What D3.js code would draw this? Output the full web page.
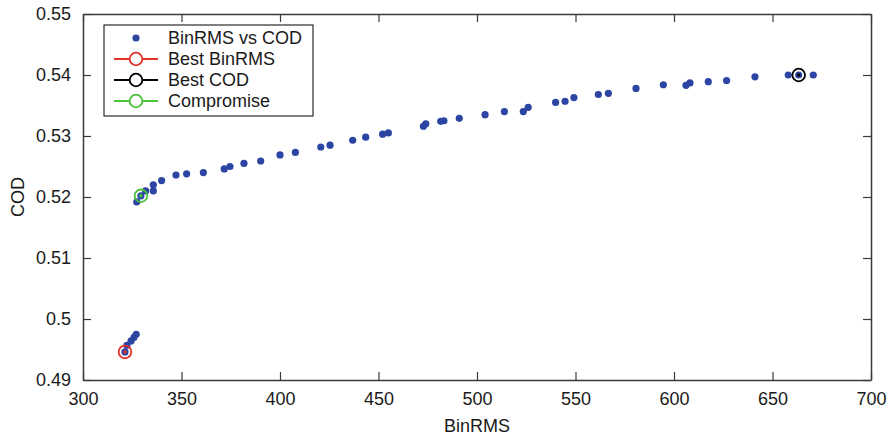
<!DOCTYPE html>
<html>
<head>
<meta charset="utf-8">
<script src="https://cdn.jsdelivr.net/npm/d3@7"></script>
<style>
  body { margin: 0; background: #fff; }
  text { font-family: "Liberation Sans", Arial, sans-serif; fill: #1a1a1a; }
</style>
</head>
<body>
<svg width="894" height="438"></svg>
<script>
// BinRMS vs COD points
const binrms = [321.3, 322.3, 324.4, 325.9, 327.0, 327.3, 329.4, 331.8, 335.7, 335.7,
  339.9, 347.2, 352.6, 361.1, 371.7, 374.6, 381.7, 390.2, 400.0, 407.8,
  420.7, 425.4, 436.9, 443.5, 452.1, 455.0, 472.8, 474.0, 481.6, 483.2,
  491.0, 504.1, 513.9, 523.5, 526.0, 539.9, 544.7, 549.2, 561.6, 566.7,
  580.7, 594.6, 606.1, 608.1, 617.4, 626.7, 641.1, 658.0, 663.3, 670.7];
const cod = [0.4946, 0.4957, 0.4964, 0.4970, 0.4975, 0.5192, 0.5202, 0.5210, 0.5220, 0.5210,
  0.5227, 0.5236, 0.5238, 0.5240, 0.5246, 0.5250, 0.5255, 0.5259, 0.5269, 0.5273,
  0.5282, 0.5285, 0.5293, 0.5298, 0.5303, 0.5305, 0.5316, 0.5320, 0.5324, 0.5325,
  0.5329, 0.5335, 0.5340, 0.5340, 0.5347, 0.5355, 0.5357, 0.5363, 0.5368, 0.5370,
  0.5378, 0.5384, 0.5383, 0.5387, 0.5389, 0.5391, 0.5397, 0.5400, 0.5400, 0.5400];

// highlighted solutions
const highlightNames = ["Best BinRMS", "Best COD", "Compromise"];
const highlightBinrms = [321.3, 663.3, 329.4];
const highlightCod = [0.4946, 0.5400, 0.5202];
const highlightColors = ["#e8302a", "#000000", "#4cc13a"];

const xTicks = [300, 350, 400, 450, 500, 550, 600, 650, 700];
const yTicks = [0.49, 0.50, 0.51, 0.52, 0.53, 0.54, 0.55];

const svg = d3.select("svg");
const margin = { top: 14, right: 23, bottom: 58, left: 83 };
const width = 894 - margin.left - margin.right;
const height = 438 - margin.top - margin.bottom;
const dotColor = "#2c45a3";
const axisColor = "#3a3a3a";

const g = svg.append("g").attr("transform", `translate(${margin.left},${margin.top})`);

const x = d3.scaleLinear().domain([300, 700]).range([0, width]);
const y = d3.scaleLinear().domain([0.49, 0.55]).range([height, 0]);

const fmtY = (v) => String(+v.toFixed(2));

// axes with inward ticks (box on all four sides)
const tickLen = 8;
const bottomAxis = d3.axisBottom(x).tickValues(xTicks).tickSizeInner(-tickLen).tickSizeOuter(0).tickPadding(12);
const leftAxis = d3.axisLeft(y).tickValues(yTicks).tickFormat(fmtY).tickSizeInner(-tickLen).tickSizeOuter(0).tickPadding(12);
const topAxis = d3.axisTop(x).tickValues(xTicks).tickFormat("").tickSizeInner(-tickLen).tickSizeOuter(0);
const rightAxis = d3.axisRight(y).tickValues(yTicks).tickFormat("").tickSizeInner(-tickLen).tickSizeOuter(0);

const styleAxis = (sel) => {
  sel.select(".domain").attr("stroke", axisColor).attr("stroke-width", 1.5);
  sel.selectAll(".tick line").attr("stroke", axisColor).attr("stroke-width", 1.2);
  sel.selectAll(".tick text").attr("font-size", 18).attr("fill", "#1a1a1a")
    .attr("font-family", "Liberation Sans, Arial, sans-serif");
};

g.append("g").attr("transform", `translate(0,${height})`).call(bottomAxis).call(styleAxis);
g.append("g").call(leftAxis).call(styleAxis);
g.append("g").call(topAxis).call(styleAxis);
g.append("g").attr("transform", `translate(${width},0)`).call(rightAxis).call(styleAxis);

// axis titles
svg.append("text")
  .attr("x", margin.left + width / 2)
  .attr("y", 432)
  .attr("text-anchor", "middle")
  .attr("font-size", 18)
  .text("BinRMS");

svg.append("text")
  .attr("transform", `translate(24,${margin.top + height / 2}) rotate(-90)`)
  .attr("text-anchor", "middle")
  .attr("font-size", 18)
  .text("COD");

// scatter
const points = binrms.map((b, i) => ({ b, c: cod[i] }));
g.append("g")
  .selectAll("circle")
  .data(points)
  .enter()
  .append("circle")
  .attr("cx", (d) => x(d.b))
  .attr("cy", (d) => y(d.c))
  .attr("r", 3.6)
  .attr("fill", dotColor);

// highlighted markers
const hl = highlightNames.map((n, i) => ({ n, b: highlightBinrms[i], c: highlightCod[i], col: highlightColors[i] }));
const hg = g.append("g");
hg.selectAll("circle.ring")
  .data(hl)
  .enter()
  .append("circle")
  .attr("class", "ring")
  .attr("cx", (d) => x(d.b))
  .attr("cy", (d) => y(d.c))
  .attr("r", 6.3)
  .attr("fill", "none")
  .attr("stroke", (d) => d.col)
  .attr("stroke-width", 1.8);
hg.selectAll("circle.center")
  .data(hl)
  .enter()
  .append("circle")
  .attr("class", "center")
  .attr("cx", (d) => x(d.b))
  .attr("cy", (d) => y(d.c))
  .attr("r", 1.8)
  .attr("fill", (d) => d.col);

// legend
const legend = svg.append("g").attr("transform", "translate(104,25)");
legend.append("rect")
  .attr("x", 0).attr("y", 0)
  .attr("width", 209).attr("height", 91)
  .attr("fill", "#fff")
  .attr("stroke", "#000")
  .attr("stroke-width", 1);

const legendRows = ["BinRMS vs COD"].concat(highlightNames);
legendRows.forEach((name, i) => {
  const ry = 13 + i * 21;
  const row = legend.append("g").attr("transform", `translate(0,${ry})`);
  if (i === 0) {
    row.append("circle").attr("cx", 32).attr("cy", 0).attr("r", 3.6).attr("fill", dotColor);
  } else {
    const col = highlightColors[i - 1];
    row.append("line").attr("x1", 10).attr("x2", 54).attr("y1", 0).attr("y2", 0)
      .attr("stroke", col).attr("stroke-width", 1.8);
    row.append("circle").attr("cx", 32).attr("cy", 0).attr("r", 6.3)
      .attr("fill", "#fff").attr("stroke", col).attr("stroke-width", 1.8);
  }
  row.append("text")
    .attr("x", 64)
    .attr("y", 6)
    .attr("font-size", 18)
    .text(name);
});
</script>
</body>
</html>
